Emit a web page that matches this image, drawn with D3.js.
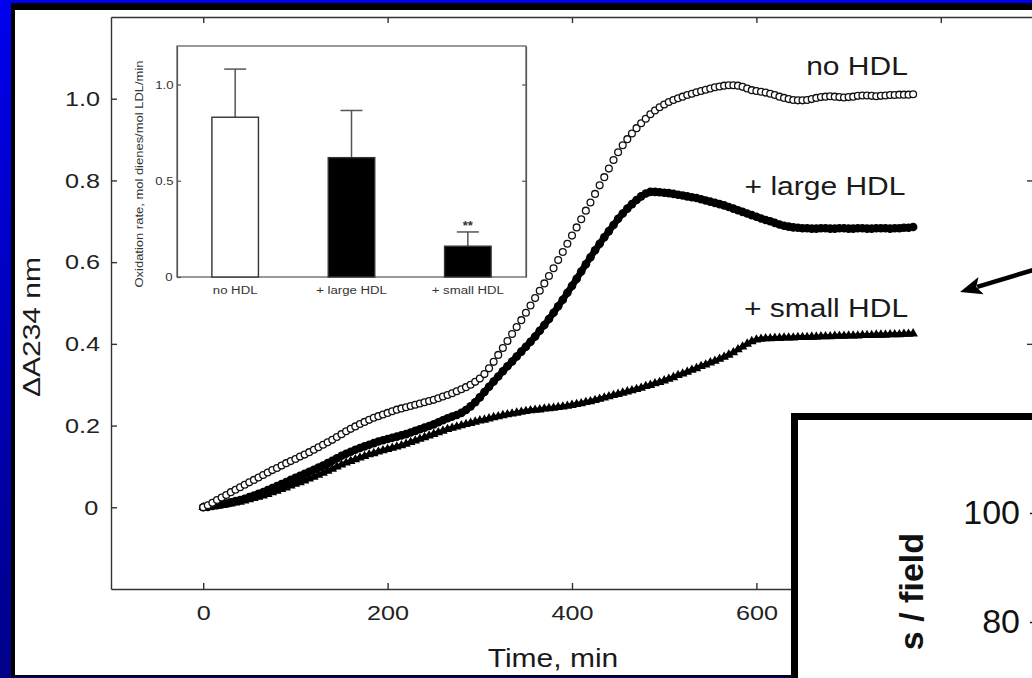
<!DOCTYPE html>
<html>
<head>
<meta charset="utf-8">
<script src="https://cdn.jsdelivr.net/npm/d3@7"></script>
<style>
body { margin: 0; background: #000; }
svg { display: block; }
svg text { font-family: "Liberation Sans", Arial, Helvetica, sans-serif; fill: #1a1a1a; }
.ax path, .ax line { stroke: #333; stroke-width: 1.4; }
.ax text { font-size: 21px; fill: #222; }
.inset path, .inset line { stroke: #555; stroke-width: 1.2; }
.inset text { font-size: 11px; fill: #333; }
.panel text { font-size: 34px; fill: #111; }
.panel line, .panel path { stroke: #111; stroke-width: 1.5; }
/* the figure on the slide was stretched sideways, so is its lettering */
.sx { transform-box: fill-box; transform-origin: center; transform: scaleX(1.2); }
</style>
</head>
<body>
<svg id="chart" width="1032" height="678"></svg>
<script>
// kinetics of conjugated diene formation, sampled every 5 min
var timeMin = [0,5,10,15,20,25,30,35,40,45,50,
  55,60,65,70,75,80,85,90,95,100,
  105,110,115,120,125,130,135,140,145,150,
  155,160,165,170,175,180,185,190,195,200,
  205,210,215,220,225,230,235,240,245,250,
  255,260,265,270,275,280,285,290,295,300,
  305,310,315,320,325,330,335,340,345,350,
  355,360,365,370,375,380,385,390,395,400,
  405,410,415,420,425,430,435,440,445,450,
  455,460,465,470,475,480,485,490,495,500,
  505,510,515,520,525,530,535,540,545,550,
  555,560,565,570,575,580,585,590,595,600,
  605,610,615,620,625,630,635,640,645,650,
  655,660,665,670,675,680,685,690,695,700,
  705,710,715,720,725,730,735,740,745,750,
  755,760,765,770];

var noHDL = [0.000,0.005,0.011,0.018,0.024,0.030,0.037,0.043,0.049,0.055,0.061,
  0.067,0.073,0.079,0.085,0.091,0.096,0.102,0.108,0.113,0.118,
  0.124,0.129,0.135,0.141,0.147,0.153,0.159,0.165,0.172,0.179,
  0.186,0.192,0.198,0.204,0.209,0.214,0.219,0.223,0.227,0.231,
  0.235,0.239,0.242,0.245,0.248,0.251,0.254,0.257,0.260,0.263,
  0.267,0.271,0.275,0.279,0.284,0.289,0.294,0.300,0.307,0.315,
  0.326,0.340,0.356,0.373,0.390,0.407,0.424,0.441,0.458,0.476,
  0.494,0.512,0.530,0.548,0.566,0.585,0.605,0.625,0.645,0.665,
  0.685,0.705,0.726,0.746,0.767,0.788,0.808,0.829,0.850,0.869,
  0.886,0.901,0.915,0.928,0.940,0.951,0.962,0.971,0.979,0.986,
  0.992,0.997,1.001,1.005,1.009,1.012,1.016,1.019,1.022,1.025,
  1.028,1.030,1.032,1.033,1.033,1.032,1.029,1.025,1.021,1.019,
  1.017,1.015,1.012,1.009,1.005,1.002,0.999,0.997,0.996,0.996,
  0.997,0.999,1.002,1.004,1.005,1.006,1.005,1.004,1.003,1.004,
  1.005,1.007,1.008,1.008,1.007,1.006,1.007,1.008,1.009,1.009,
  1.010,1.010,1.010,1.011];

var largeHDL = [0.000,0.001,0.003,0.005,0.007,0.009,0.012,0.015,0.018,0.021,0.025,
  0.029,0.033,0.037,0.042,0.047,0.052,0.057,0.062,0.067,0.072,
  0.077,0.082,0.087,0.092,0.097,0.102,0.108,0.114,0.120,0.126,
  0.131,0.136,0.141,0.145,0.149,0.153,0.157,0.161,0.164,0.167,
  0.170,0.173,0.176,0.179,0.183,0.187,0.191,0.195,0.199,0.203,
  0.208,0.213,0.218,0.222,0.226,0.231,0.238,0.247,0.257,0.269,
  0.282,0.295,0.308,0.320,0.333,0.345,0.357,0.369,0.381,0.393,
  0.405,0.418,0.432,0.446,0.461,0.476,0.492,0.508,0.525,0.542,
  0.559,0.577,0.595,0.612,0.629,0.645,0.661,0.676,0.691,0.706,
  0.719,0.731,0.742,0.752,0.761,0.768,0.772,0.772,0.771,0.770,
  0.769,0.767,0.765,0.763,0.761,0.759,0.757,0.754,0.751,0.748,
  0.745,0.742,0.739,0.735,0.731,0.727,0.723,0.719,0.715,0.711,
  0.707,0.703,0.700,0.696,0.692,0.689,0.687,0.685,0.684,0.683,
  0.683,0.682,0.682,0.683,0.683,0.682,0.682,0.683,0.683,0.682,
  0.682,0.683,0.683,0.682,0.682,0.683,0.683,0.683,0.682,0.683,
  0.683,0.684,0.684,0.686];

var smallHDL = [0.000,0.001,0.002,0.003,0.005,0.007,0.009,0.011,0.013,0.016,0.019,
  0.022,0.025,0.028,0.032,0.036,0.040,0.044,0.048,0.053,0.057,
  0.061,0.065,0.070,0.074,0.079,0.084,0.089,0.094,0.099,0.104,
  0.109,0.113,0.117,0.121,0.125,0.129,0.132,0.136,0.139,0.142,
  0.145,0.148,0.151,0.155,0.159,0.163,0.167,0.171,0.175,0.179,
  0.183,0.187,0.191,0.194,0.197,0.200,0.203,0.206,0.209,0.212,
  0.214,0.217,0.220,0.222,0.225,0.227,0.229,0.231,0.233,0.235,
  0.237,0.238,0.239,0.241,0.242,0.243,0.245,0.246,0.248,0.250,
  0.252,0.254,0.257,0.259,0.262,0.265,0.268,0.271,0.274,0.277,
  0.280,0.283,0.286,0.289,0.292,0.296,0.299,0.303,0.306,0.310,
  0.314,0.318,0.323,0.327,0.331,0.336,0.340,0.345,0.349,0.354,
  0.358,0.363,0.368,0.373,0.379,0.386,0.393,0.400,0.406,0.410,
  0.412,0.413,0.413,0.414,0.414,0.415,0.415,0.415,0.416,0.416,
  0.416,0.417,0.417,0.418,0.418,0.418,0.419,0.419,0.419,0.420,
  0.420,0.420,0.421,0.421,0.421,0.422,0.422,0.422,0.423,0.423,
  0.423,0.424,0.424,0.425];

var curveNames = ["no HDL", "+ large HDL", "+ small HDL"];

// inset: oxidation rate bars
var barCats = ["no HDL", "+ large HDL", "+ small HDL"];
var barMeans = [0.83, 0.62, 0.16];
var barSD = [0.25, 0.245, 0.074];
var barFill = ["#fff", "#000", "#000"];
var barSig = ["", "", "**"];

// tick values
var xTicks = [0, 200, 400, 600];
var xTopTicks = [0, 200, 400, 600, 800];
var yTicks = [0, 0.2, 0.4, 0.6, 0.8, 1.0];
var yRightTicks = [0.4, 0.8];
var insetTicks = [0, 0.5, 1.0];
var panelTicks = [80, 100];

var svg = d3.select("#chart");
var fmt1 = function(d) { return d === 0 ? "0" : d3.format(".1f")(d); };

// slide background
var grad = svg.append("defs").append("linearGradient")
    .attr("id", "blue").attr("x1", 0).attr("y1", 0).attr("x2", 0).attr("y2", 1);
grad.append("stop").attr("offset", "0%").attr("stop-color", "#0000ee");
grad.append("stop").attr("offset", "100%").attr("stop-color", "#000088");
svg.append("rect").attr("width", 1032).attr("height", 678).attr("fill", "url(#blue)");
svg.append("rect").attr("x", 11).attr("y", 3).attr("width", 1030).attr("height", 674).attr("fill", "#000");
svg.append("rect").attr("x", 15).attr("y", 10).attr("width", 1025).attr("height", 665).attr("fill", "#fff");

// main chart
var x = d3.scaleLinear().domain([-100, 900]).range([111, 1033]);
var y = d3.scaleLinear().domain([-0.2, 1.2]).range([589, 17]);

var ax = svg.append("g").attr("class", "ax");
ax.append("g").attr("transform", "translate(111,0)")
  .call(d3.axisLeft(y).tickValues(yTicks).tickSize(-6).tickSizeOuter(0).tickPadding(14).tickFormat(fmt1))
  .selectAll("text").attr("class", "sx");
ax.append("g").attr("transform", "translate(0,589)")
  .call(d3.axisBottom(x).tickValues(xTicks).tickSize(-6).tickSizeOuter(0).tickPadding(16).tickFormat(d3.format("d")))
  .selectAll("text").attr("class", "sx");
ax.append("g").attr("transform", "translate(0,17)")
  .call(d3.axisTop(x).tickValues(xTopTicks).tickSize(-6).tickSizeOuter(0).tickFormat(""));
ax.append("g").attr("transform", "translate(1033,0)")
  .call(d3.axisRight(y).tickValues(yRightTicks).tickSize(-6).tickSizeOuter(0).tickFormat(""));

svg.append("text").attr("class", "sx")
  .attr("x", 553).attr("y", 667).attr("text-anchor", "middle")
  .style("font-size", "25px").text("Time, min");
svg.append("text")
  .attr("transform", "translate(40,327) rotate(-90)").attr("text-anchor", "middle")
  .attr("textLength", 140).attr("lengthAdjust", "spacingAndGlyphs")
  .style("font-size", "24px").text("\u0394A234 nm");

var line = d3.line()
  .x(function(d, i) { return x(timeMin[i]); })
  .y(function(d) { return y(d); });

// + large HDL : filled circles
svg.append("path").datum(largeHDL).attr("d", line)
  .attr("fill", "none").attr("stroke", "#000").attr("stroke-width", 6.5).attr("stroke-linejoin", "round");
svg.append("g").selectAll("circle").data(largeHDL).join("circle")
  .attr("cx", function(d, i) { return x(timeMin[i]); })
  .attr("cy", function(d) { return y(d); })
  .attr("r", 4.3).attr("fill", "#000");

// + small HDL : filled triangles
svg.append("path").datum(smallHDL).attr("d", line)
  .attr("fill", "none").attr("stroke", "#000").attr("stroke-width", 4.5).attr("stroke-linejoin", "round");
svg.append("g").selectAll("path").data(smallHDL).join("path")
  .attr("transform", function(d, i) { return "translate(" + x(timeMin[i]) + "," + y(d) + ")"; })
  .attr("d", d3.symbol(d3.symbolTriangle, 40))
  .attr("fill", "#000");

// no HDL : open circles
svg.append("g").selectAll("circle").data(noHDL).join("circle")
  .attr("cx", function(d, i) { return x(timeMin[i]); })
  .attr("cy", function(d) { return y(d); })
  .attr("r", 3.4).attr("fill", "#fff").attr("stroke", "#111").attr("stroke-width", 1.3);

var labelAt = [[857, 75], [825, 195], [826, 317]];
svg.append("g").selectAll("text").data(curveNames).join("text")
  .attr("class", "sx")
  .attr("x", function(d, i) { return labelAt[i][0]; })
  .attr("y", function(d, i) { return labelAt[i][1]; })
  .attr("text-anchor", "middle")
  .style("font-size", "25px")
  .text(function(d) { return d; });

// inset bar chart
var inset = svg.append("g").attr("class", "inset");
var xb = d3.scaleBand().domain(barCats).range([177, 526]).paddingInner(0.6).paddingOuter(0.3);
var yb = d3.scaleLinear().domain([0, 1.2]).range([277, 46]);

inset.append("rect").attr("x", 177).attr("y", 46).attr("width", 349).attr("height", 231)
  .attr("fill", "#fff").attr("stroke", "#555").attr("stroke-width", 1.2);
inset.append("g").attr("transform", "translate(177,0)")
  .call(d3.axisLeft(yb).tickValues(insetTicks).tickSize(-4).tickSizeOuter(0).tickPadding(5).tickFormat(fmt1))
  .selectAll("text").attr("class", "sx");
inset.append("g").attr("transform", "translate(526,0)")
  .call(d3.axisRight(yb).tickValues([0.5, 1.0]).tickSize(-4).tickSizeOuter(0).tickFormat(""));

// error bars (upper whisker only)
var eb = inset.append("g").selectAll("g").data(barCats).join("g");
eb.append("line")
  .attr("x1", function(d) { return xb(d) + xb.bandwidth() / 2; })
  .attr("x2", function(d) { return xb(d) + xb.bandwidth() / 2; })
  .attr("y1", function(d, i) { return yb(barMeans[i]); })
  .attr("y2", function(d, i) { return yb(barMeans[i] + barSD[i]); })
  .style("stroke-width", 1.5);
eb.append("line")
  .attr("x1", function(d) { return xb(d) + xb.bandwidth() / 2 - 11; })
  .attr("x2", function(d) { return xb(d) + xb.bandwidth() / 2 + 11; })
  .attr("y1", function(d, i) { return yb(barMeans[i] + barSD[i]); })
  .attr("y2", function(d, i) { return yb(barMeans[i] + barSD[i]); })
  .style("stroke-width", 1.5);

inset.append("g").selectAll("rect").data(barCats).join("rect")
  .attr("x", function(d) { return xb(d); })
  .attr("y", function(d, i) { return yb(barMeans[i]); })
  .attr("width", xb.bandwidth())
  .attr("height", function(d, i) { return yb(0) - yb(barMeans[i]); })
  .attr("fill", function(d, i) { return barFill[i]; })
  .attr("stroke", "#333").attr("stroke-width", 1.4);

inset.append("g").selectAll("text").data(barCats).join("text")
  .attr("class", "sx")
  .attr("x", function(d) { return xb(d) + xb.bandwidth() / 2; })
  .attr("y", 294).attr("text-anchor", "middle")
  .text(function(d) { return d; });

inset.append("g").selectAll("text").data(barSig).join("text")
  .attr("x", function(d, i) { return xb(barCats[i]) + xb.bandwidth() / 2; })
  .attr("y", function(d, i) { return yb(barMeans[i] + barSD[i]) - 2; })
  .attr("text-anchor", "middle").style("font-size", "13px").style("font-weight", "bold")
  .text(function(d) { return d; });

inset.append("text")
  .attr("transform", "translate(143,174) rotate(-90)").attr("text-anchor", "middle")
  .attr("textLength", 227).attr("lengthAdjust", "spacingAndGlyphs")
  .text("Oxidation rate, mol dienes/mol LDL/min");

// arrow pointing at the + small HDL curve
var arrowFrom = [1060, 262], arrowTip = [960, 292];
var ang = Math.atan2(arrowTip[1] - arrowFrom[1], arrowTip[0] - arrowFrom[0]);
var headLen = 22, headHalf = 9;
var bx = arrowTip[0] - headLen * Math.cos(ang), by = arrowTip[1] - headLen * Math.sin(ang);
svg.append("line")
  .attr("x1", arrowFrom[0]).attr("y1", arrowFrom[1])
  .attr("x2", bx + 4 * Math.cos(ang)).attr("y2", by + 4 * Math.sin(ang))
  .attr("stroke", "#000").attr("stroke-width", 4.5);
svg.append("path")
  .attr("d", "M" + arrowTip[0] + "," + arrowTip[1] +
    "L" + (bx - headHalf * Math.sin(ang)) + "," + (by + headHalf * Math.cos(ang)) +
    "L" + (bx + 5 * Math.cos(ang)) + "," + (by + 5 * Math.sin(ang)) +
    "L" + (bx + headHalf * Math.sin(ang)) + "," + (by - headHalf * Math.cos(ang)) + "Z")
  .attr("fill", "#000");

// second figure overlapping the bottom right corner
var panel = svg.append("g").attr("class", "panel");
panel.append("rect").attr("x", 794.5).attr("y", 416.5).attr("width", 300).attr("height", 300)
  .attr("fill", "#fff").attr("stroke", "#000").attr("stroke-width", 7);
var yp = d3.scaleLinear().domain([80, 100]).range([622, 513]);
panel.append("g").attr("transform", "translate(1035,0)")
  .call(d3.axisLeft(yp).tickValues(panelTicks).tickSize(5).tickSizeOuter(0).tickPadding(10).tickFormat(d3.format("d")))
  .select(".domain").remove();
panel.append("text")
  .attr("transform", "translate(923,533) rotate(-90)").attr("text-anchor", "end")
  .style("font-weight", "bold").text("s / field");
</script>
</body>
</html>
